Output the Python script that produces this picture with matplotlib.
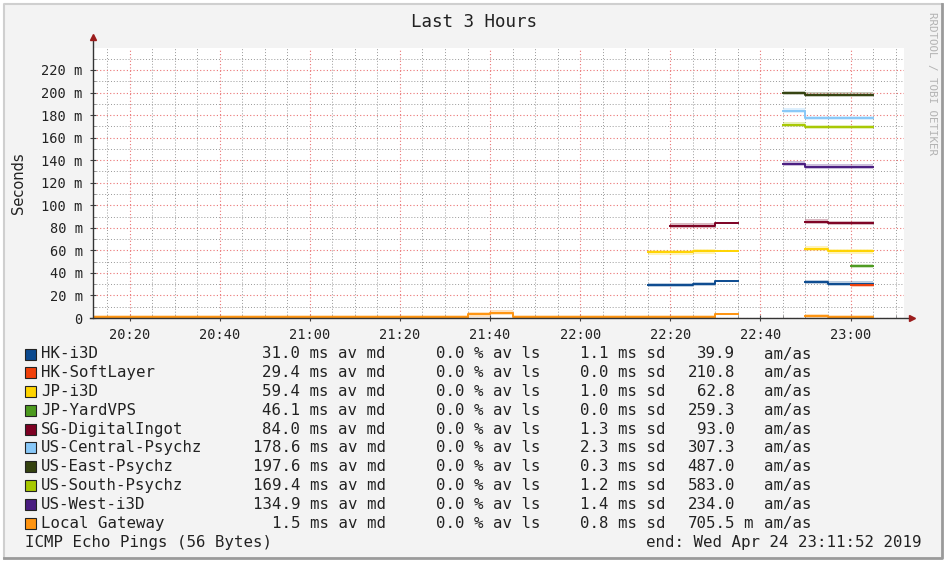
import numpy as np
import matplotlib
matplotlib.use("Agg")
from matplotlib import pyplot as plt
from matplotlib.patches import Rectangle
from matplotlib.ticker import MultipleLocator, FuncFormatter

nan = np.nan

# 5 minute bins, minutes after 20:00
bin_edges = np.arange(10, 190, 5)

hk_i3d = [nan]*25 + [29.3, 29.3, 30.2, 33.1] + [nan]*3 + [31.9, 30.4, 30.4]
hk_softlayer = [nan]*34 + [29.4]
jp_i3d = [nan]*25 + [58.3, 58.3, 59.2, 59.2] + [nan]*3 + [61.5, 59.2, 59.2]
jp_yardvps = [nan]*34 + [46.1]
sg_digitalingot = [nan]*26 + [81.9, 81.9, 84.5] + [nan]*3 + [85.5, 84.3, 84.3]
us_central = [nan]*31 + [183.9, 177.4, 177.4, 177.4]
us_east = [nan]*31 + [199.4, 198.1, 198.1, 198.1]
us_south = [nan]*31 + [171.5, 169.4, 169.4, 169.4]
us_west = [nan]*31 + [136.9, 134.2, 134.2, 134.2]
local_gw = [1.0]*17 + [3.3, 4.7] + [1.0]*9 + [3.3] + [nan]*3 + [1.8, 1.0, 1.0]

names = ["HK-i3D", "HK-SoftLayer", "JP-i3D", "JP-YardVPS", "SG-DigitalIngot",
         "US-Central-Psychz", "US-East-Psychz", "US-South-Psychz", "US-West-i3D",
         "Local Gateway"]
series = [hk_i3d, hk_softlayer, jp_i3d, jp_yardvps, sg_digitalingot,
          us_central, us_east, us_south, us_west, local_gw]
colors = ["#0b4a8f", "#f0400a", "#ffd400", "#4c9a1e", "#7d0022",
          "#88c8f8", "#34420f", "#a8c800", "#4a1c80", "#ff9410"]
av_md = [31.0, 29.4, 59.4, 46.1, 84.0, 178.6, 197.6, 169.4, 134.9, 1.5]
av_ls = [0.0, 0.0, 0.0, 0.0, 0.0, 0.0, 0.0, 0.0, 0.0, 0.0]
sd = [1.1, 0.0, 1.0, 0.0, 1.3, 2.3, 0.3, 1.2, 1.4, 0.8]
am_as = [39.9, 210.8, 62.8, 259.3, 93.0, 307.3, 487.0, 583.0, 234.0, 705.5]
am_unit = ["", "", "", "", "", "", "", "", "", "m"]

x_ticks = [20, 40, 60, 80, 100, 120, 140, 160, 180]
x_labels = ["20:20", "20:40", "21:00", "21:20", "21:40", "22:00", "22:20", "22:40", "23:00"]

W, H = 949, 565
def fx(px):
    return px / W
def fy(py):
    return 1 - py / H

mono = "DejaVu Sans Mono"
fig = plt.figure(figsize=(W / 100, H / 100), dpi=100, facecolor="white")

# frame
fig.patches.append(Rectangle((fx(4), fy(558)), fx(942) - fx(4), fy(4) - fy(558),
                             transform=fig.transFigure, facecolor="#f3f3f3",
                             edgecolor="none", zorder=-10))
fig.add_artist(plt.Line2D([fx(4), fx(4), fx(942)], [fy(558), fy(4), fy(4)],
                          color="#cfcfcf", lw=1.5, transform=fig.transFigure))
fig.add_artist(plt.Line2D([fx(4), fx(942), fx(942)], [fy(558), fy(558), fy(4)],
                          color="#9a9a9a", lw=2, transform=fig.transFigure))

ax = fig.add_axes([fx(93), fy(318), fx(904) - fx(93), fy(48) - fy(318)])
ax.set_facecolor("white")
ax.set_xlim(11.87, 191.87)
ax.set_ylim(0, 239.5)

# Plotting
for vals, col in zip(series, colors):
    y = np.array(vals + [vals[-1]], dtype=float)
    ax.fill_between(bin_edges, y - 2.0, y + 2.0, step="post", color=col,
                    alpha=0.28, lw=0)
    ax.step(bin_edges, y, where="post", color=col, lw=1.4)

ax.xaxis.set_major_locator(MultipleLocator(20))
ax.xaxis.set_minor_locator(MultipleLocator(5))
ax.set_xticks(x_ticks)
ax.set_xticklabels(x_labels, fontfamily=mono, fontsize=9.8, color="#222222")
ax.yaxis.set_major_locator(MultipleLocator(20))
ax.yaxis.set_minor_locator(MultipleLocator(10))
ax.set_yticks(np.arange(0, 240, 20))
ax.yaxis.set_major_formatter(FuncFormatter(lambda v, p: "0" if v == 0 else "%d m" % v))
for lab in ax.get_yticklabels():
    lab.set_fontfamily(mono)
    lab.set_fontsize(9.8)
    lab.set_color("#222222")

ax.grid(which="minor", color=(0.6, 0.6, 0.6, 0.32), ls=(0, (1, 2)), lw=0.7)
ax.grid(which="major", color=(0.92, 0.45, 0.45, 0.38), ls=(0, (1, 2)), lw=0.8)
ax.set_axisbelow(True)
ax.tick_params(which="major", direction="inout", length=5, width=0.8, color="#444444", pad=5)
ax.tick_params(which="minor", direction="in", length=2, width=0.6, color="#888888")
for s in ax.spines.values():
    s.set_visible(False)

# axes with arrows
ax.plot([0, 0], [0, 1.035], transform=ax.transAxes, color="#333333", lw=1, clip_on=False)
ax.plot([-0.004, 1.008], [0, 0], transform=ax.transAxes, color="#333333", lw=1, clip_on=False)
ax.plot([0], [1.04], marker="^", ms=5, color="#9b1c1c", transform=ax.transAxes, clip_on=False)
ax.plot([1.010], [0], marker=">", ms=5, color="#9b1c1c", transform=ax.transAxes, clip_on=False)

fig.text(fx(474), fy(22), "Last 3 Hours", fontfamily=mono, fontsize=12.6,
         ha="center", va="center", color="#222222")
fig.text(fx(18), fy(183), "Seconds", fontsize=10.5, rotation=90,
         ha="center", va="center", color="#222222")
fig.text(fx(932), fy(84), "RRDTOOL / TOBI OETIKER", fontfamily=mono, fontsize=7.8,
         rotation=-90, ha="center", va="center", color="#b3b3b3")

# legend
for i, name in enumerate(names):
    yc = 354 + 18.78 * i
    fig.patches.append(Rectangle((fx(25), fy(yc + 5.5)), fx(11), 11 / H,
                                 transform=fig.transFigure, facecolor=colors[i],
                                 edgecolor="#222222", lw=0.8))
    kw = dict(fontfamily=mono, fontsize=11.3, va="center", color="#222222")
    fig.text(fx(41), fy(yc), name, ha="left", **kw)
    fig.text(fx(386), fy(yc), "%.1f ms av md" % av_md[i], ha="right", **kw)
    fig.text(fx(541), fy(yc), "%.1f %% av ls" % av_ls[i], ha="right", **kw)
    fig.text(fx(666), fy(yc), "%.1f ms sd" % sd[i], ha="right", **kw)
    fig.text(fx(735), fy(yc), "%.1f" % am_as[i], ha="right", **kw)
    if am_unit[i]:
        fig.text(fx(743), fy(yc), am_unit[i], ha="left", **kw)
    fig.text(fx(764), fy(yc), "am/as", ha="left", **kw)

fig.text(fx(25), fy(542), "ICMP Echo Pings (56 Bytes)", fontfamily=mono, fontsize=11.3,
         ha="left", va="center", color="#222222")
fig.text(fx(922), fy(542), "end: Wed Apr 24 23:11:52 2019", fontfamily=mono, fontsize=11.3,
         ha="right", va="center", color="#222222")

fig.savefig("out.png", dpi=100, facecolor="white")
